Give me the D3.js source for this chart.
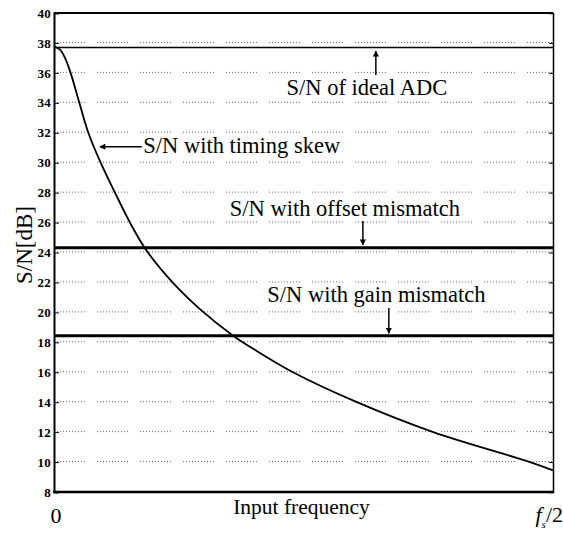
<!DOCTYPE html>
<html>
<head>
<meta charset="utf-8">
<script src="https://cdn.jsdelivr.net/npm/d3@7/dist/d3.min.js"></script>
<style>
body { margin: 0; background: #fff; }
svg { display: block; }
</style>
</head>
<body>
<svg width="563" height="535" font-family="Liberation Serif"></svg>
<script>
var serif = "Liberation Serif";

// y tick labels
var yTicks = [8, 10, 12, 14, 16, 18, 20, 22, 24, 26, 28, 30, 32, 34, 36, 38, 40];
// timing-skew curve, x as fraction of fs/2
var skewX = [0, 0.012, 0.022, 0.0333, 0.0508, 0.0688, 0.0935, 0.1222, 0.1523, 0.184, 0.239, 0.293, 0.359, 0.40, 0.479, 0.607, 0.760, 0.954, 1.0];
var skewY = [37.75, 37.55, 37.0, 36.0, 34.0, 32.0, 30.0, 28.0, 26.0, 24.2, 21.95, 20.2, 18.44, 17.55, 16.0, 14.0, 12.0, 10.0, 9.45];
// flat levels
var levelNames = ["ideal", "offset", "gain"];
var levelValues = [37.7, 24.32, 18.44];
var levelWidths = [1.6, 3, 3];
// annotations
var noteText = ["S/N of ideal ADC", "S/N with timing skew", "S/N with offset mismatch", "S/N with gain mismatch"];
var noteX = [0.627, 0.179, 0.583, 0.646];
var noteY = [34.52, 30.65, 26.44, 20.7];
var noteAnchor = ["middle", "start", "middle", "middle"];
var arrowX1 = [0.645, 0.176, 0.619, 0.671];
var arrowY1 = [35.86, 31.07, 26.1, 20.3];
var arrowX2 = [0.645, 0.092, 0.619, 0.671];
var arrowY2 = [37.45, 31.07, 24.5, 18.6];

var svg = d3.select("svg"),
    margin = {top: 13, right: 10, bottom: 43, left: 54},
    width = +svg.attr("width") - margin.left - margin.right,
    height = +svg.attr("height") - margin.top - margin.bottom,
    g = svg.append("g").attr("transform", "translate(" + margin.left + "," + margin.top + ")");

var x = d3.scaleLinear().domain([0, 1]).range([0, width]);
var y = d3.scaleLinear().domain([8, 40]).range([height, 0]);

svg.append("defs").append("marker")
    .attr("id", "head")
    .attr("viewBox", "0 0 10 10")
    .attr("refX", 9).attr("refY", 5)
    .attr("markerWidth", 7).attr("markerHeight", 6)
    .attr("markerUnits", "userSpaceOnUse")
    .attr("orient", "auto")
  .append("path")
    .attr("d", "M0,0L10,5L0,10z")
    .attr("fill", "#000");

// dotted grid
g.append("g")
  .selectAll("line")
  .data(yTicks.filter(function(d) { return d > 8 && d < 40; }))
  .enter().append("line")
    .attr("x1", 0).attr("x2", width)
    .attr("y1", function(d) { return y(d) - 0.5; })
    .attr("y2", function(d) { return y(d) - 0.5; })
    .attr("stroke", "#666")
    .attr("stroke-width", 1)
    .attr("stroke-dasharray", "1,2,1,2,1,2,1,2,1,2,1,2,1,2,1,2,1,2,1,2,1,12");

// left axis
var left = g.append("g")
    .call(d3.axisLeft(y).tickValues(yTicks).tickSize(-5).tickPadding(3))
    .attr("font-family", serif)
    .attr("font-size", 13)
    .attr("font-weight", "bold");
left.select(".domain").attr("stroke-width", 2);
left.selectAll("text").attr("letter-spacing", 0.3);

// right axis
var right = g.append("g").attr("transform", "translate(" + width + ",0)")
    .call(d3.axisRight(y).tickValues(yTicks).tickSize(-4).tickFormat(""));
right.select(".domain").attr("stroke-width", 1.5);

// top and bottom borders
g.append("line").attr("x1", 0).attr("x2", width).attr("y1", y(40)).attr("y2", y(40))
    .attr("stroke", "#000").attr("stroke-width", 2);
g.append("line").attr("x1", -1).attr("x2", width).attr("y1", y(8)).attr("y2", y(8))
    .attr("stroke", "#000").attr("stroke-width", 2.5);

// flat lines
g.selectAll(".level")
  .data(levelValues)
  .enter().append("line")
    .attr("class", function(d, i) { return "level " + levelNames[i]; })
    .attr("x1", 0).attr("x2", width)
    .attr("y1", function(d) { return y(d); })
    .attr("y2", function(d) { return y(d); })
    .attr("stroke", "#000")
    .attr("stroke-width", function(d, i) { return levelWidths[i]; });

// timing skew curve
var pts = skewX.map(function(d, i) { return [d, skewY[i]]; });
g.append("path")
    .datum(pts)
    .attr("fill", "none")
    .attr("stroke", "#000")
    .attr("stroke-width", 1.8)
    .attr("d", d3.line()
        .x(function(d) { return x(d[0]); })
        .y(function(d) { return y(d[1]); })
        .curve(d3.curveCatmullRom.alpha(0.5)));

// arrows
g.selectAll(".arrow")
  .data(arrowX1)
  .enter().append("line")
    .attr("class", "arrow")
    .attr("x1", function(d) { return x(d); })
    .attr("y1", function(d, i) { return y(arrowY1[i]); })
    .attr("x2", function(d, i) { return x(arrowX2[i]); })
    .attr("y2", function(d, i) { return y(arrowY2[i]); })
    .attr("stroke", "#000")
    .attr("stroke-width", 1.5)
    .attr("marker-end", "url(#head)");

// annotation texts
g.selectAll(".note")
  .data(noteText)
  .enter().append("text")
    .attr("class", "note")
    .attr("x", function(d, i) { return x(noteX[i]); })
    .attr("y", function(d, i) { return y(noteY[i]); })
    .attr("text-anchor", function(d, i) { return noteAnchor[i]; })
    .attr("font-family", serif)
    .attr("font-size", 22.5)
    .text(function(d) { return d; });

// x labels
g.append("text")
    .attr("x", x(0) + 2).attr("y", height + 31)
    .attr("text-anchor", "middle")
    .attr("font-family", serif).attr("font-size", 22)
    .text("0");

g.append("text")
    .attr("x", x(0.496)).attr("y", height + 22)
    .attr("text-anchor", "middle")
    .attr("font-family", serif).attr("font-size", 21.5)
    .text("Input frequency");

var fs = g.append("text")
    .attr("x", width + 10).attr("y", height + 30)
    .attr("text-anchor", "end")
    .attr("font-family", serif).attr("font-size", 22);
fs.append("tspan").attr("font-style", "italic").text("f");
fs.append("tspan").attr("font-style", "italic").attr("font-size", 11).attr("dy", 6).text("s");
fs.append("tspan").attr("dy", -6).text("/2");

// y label
svg.append("text")
    .attr("transform", "translate(32," + (margin.top + y(24.5)) + ") rotate(-90)")
    .attr("text-anchor", "middle")
    .attr("font-family", serif).attr("font-size", 23)
    .text("S/N[dB]");
</script>
</body>
</html>
